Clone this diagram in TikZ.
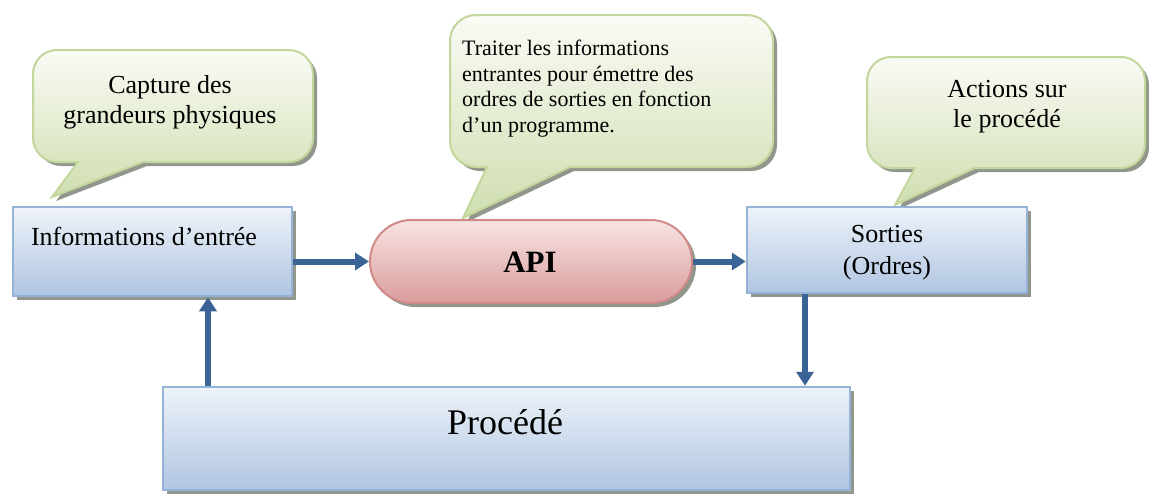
\documentclass[tikz,border=0pt]{standalone}
\usepackage{fontspec}
\setmainfont{Liberation Serif}
\usetikzlibrary{arrows.meta,shadows,shapes.misc}
\definecolor{boxtop}{HTML}{EEF3F9}
\definecolor{boxbot}{HTML}{B0C5E2}
\definecolor{boxline}{HTML}{95B3D7}
\definecolor{bubtop}{HTML}{FAFBF5}
\definecolor{bubbot}{HTML}{CFDEB0}
\definecolor{bubline}{HTML}{C3D69B}
\definecolor{apitop}{HTML}{F7E4E3}
\definecolor{apibot}{HTML}{DA9C9B}
\definecolor{apiline}{HTML}{D08A88}
\definecolor{arrcol}{HTML}{3A6496}
\definecolor{shad}{HTML}{7F8579}
\begin{document}
\begin{tikzpicture}[x=1pt,y=-1pt,
  shd/.style={drop shadow={shadow xshift=4pt, shadow yshift=-4pt, fill=shad, opacity=0.85}},
  box/.style={shd, draw=boxline, line width=2.5pt, top color=boxtop, bottom color=boxbot, inner sep=0pt},
  bubble/.style={shd, draw=bubline, line width=2pt, top color=bubtop, bottom color=bubbot},
  pill/.style={shd, rounded rectangle, draw=apiline, line width=2pt, top color=apitop, bottom color=apibot, inner sep=0pt},
  txt/.style={inner sep=0pt, font=\fontsize{26}{30}\selectfont},
  arr/.style={draw=arrcol, line width=6pt, -{Triangle[length=14pt,width=17pt]}}
]
\useasboundingbox (0,0) rectangle (1149,493);

% speech bubbles
\path[bubble] (143,162) [rounded corners=24pt] -- (313,162) -- (313,50) -- (33,50) -- (33,162)
  [sharp corners] -- (78,162) -- (52,197) -- cycle;
\path[bubble] (570,167) [rounded corners=26pt] -- (773,167) -- (773,15) -- (450,15) -- (450,167)
  [sharp corners] -- (487,167) -- (463,218) -- cycle;
\path[bubble] (975,168) [rounded corners=24pt] -- (1145,168) -- (1145,57) -- (867,57) -- (867,168)
  [sharp corners] -- (915,168) -- (895,205) -- cycle;

\node[txt, align=center] (t1) at (170,102) {Capture des\\grandeurs physiques};
\node[txt, align=left, anchor=west, font=\fontsize{22}{25.7}\selectfont] (t2) at (462,88.5)
  {Traiter les informations\\entrantes pour émettre des\\ordres de sorties en fonction\\d’un programme.};
\node[txt, align=center] (t3) at (1007,107) {Actions sur\\le procédé};

% boxes
\node[box, minimum width=279pt, minimum height=89pt] (info) at (152.5,251.5) {};
\node[txt, anchor=base] (infotxt) at (144,245) {Informations d’entrée};
\node[pill, minimum width=322pt, minimum height=83pt] (api) at (531,261.5) {};
\node[txt, anchor=base, font=\fontsize{31}{36}\selectfont\bfseries] (apitxt) at (530,272) {API};
\node[box, minimum width=280pt, minimum height=86pt] (sort) at (887,250) {};
\node[txt, align=center, font=\fontsize{26}{32}\selectfont] (sorttxt) at (887,252.5) {Sorties\\(Ordres)};
\node[box, minimum width=687pt, minimum height=103pt] (proc) at (506.5,438.5) {};
\node[txt, anchor=base, font=\fontsize{36}{40}\selectfont] (proctxt) at (505,434) {Procédé};

% connectors
\coordinate (upx) at (208,0);
\coordinate (downx) at (805,0);
\draw[arr] (info.east |- api.west) -- (api.west);
\draw[arr] (api.east) -- (api.east -| sort.west);
\draw[arr] (proc.north -| upx) -- (info.south -| upx);
\draw[arr] (sort.south -| downx) -- (proc.north -| downx);
\end{tikzpicture}
\end{document}
